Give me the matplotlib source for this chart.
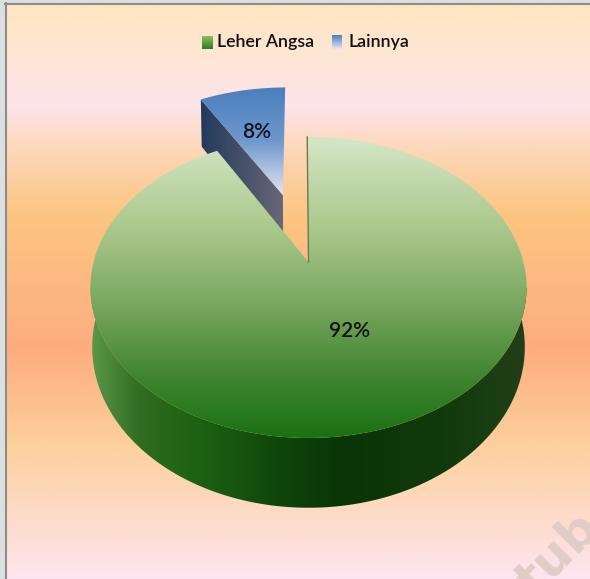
import numpy as np
import matplotlib
matplotlib.use('Agg')
import matplotlib.pyplot as plt
from matplotlib.colors import LinearSegmentedColormap as L
from matplotlib.patches import Polygon, Rectangle

labels = ['Leher Angsa', 'Lainnya']
shares = [92, 8]

W, H = 590, 579
font = 'Lato'
fig = plt.figure(figsize=(W/100, H/100), dpi=100, facecolor='#DDE0E0')
ax = fig.add_axes([0, 0, 1, 1])
ax.set_xlim(0, W); ax.set_ylim(H, 0); ax.axis('off')

def cmap(stops):
    return L.from_list('c', stops)

def vgrad(stops, y0, y1, x0=0, x1=W, clip=None, z=1):
    im = ax.imshow(np.linspace(0, 1, 512)[:, None], cmap=cmap(stops), extent=[x0, x1, y1, y0],
                   aspect='auto', zorder=z, vmin=0, vmax=1, interpolation='bilinear')
    if clip is not None: im.set_clip_path(clip)
    return im

def hgrad(stops, y0, y1, x0, x1, clip=None, z=1):
    im = ax.imshow(np.linspace(0, 1, 512)[None, :], cmap=cmap(stops), extent=[x0, x1, y1, y0],
                   aspect='auto', zorder=z, vmin=0, vmax=1, interpolation='bilinear')
    if clip is not None: im.set_clip_path(clip)
    return im

# background
bg = [(0, '#FFE6C0'), (55/575, '#FDE6D6'), (100/575, '#FDE4EA'), (140/575, '#FDD9BE'), (210/575, '#FCC582'),
      (345/575, '#FDAD80'), (440/575, '#FDD09C'), (1, '#FDE5EF')]
vgrad(bg, 4, H, 6, W, z=1)
ax.plot([5.5, 5.5], [3, H], color='#8C8C8C', lw=1.5, zorder=2)
ax.plot([5, W], [4, 4], color='#8C8C8C', lw=1.5, zorder=2)

# perspective projection of the pie disc
CX, CY, A, B, K, D = 308.5, 262, 214.9, 146.2, 0.169, 58
def proj(X, Y, depth=False):
    q = 1 + K*Y
    x = A*X/q; y = -B*Y/q
    if depth:
        x = x*0.992; y = y + D/q
    return CX + x, CY + y

fractions = np.array(shares, float)/sum(shares)
a_start = 90.4
a_end0 = a_start - 360*fractions[0]
t0 = np.radians(np.linspace(a_start, a_end0, 600))

# exploded slice
mid = np.radians(a_end0 - 360*fractions[1]/2)
e = 0.513
ex, ey = e*np.cos(mid) + 0.002, e*np.sin(mid)
t1 = np.radians(np.linspace(a_end0, a_end0 - 360*fractions[1], 60))
px, py = proj(ex + np.cos(t1), ey + np.sin(t1))
ax0, ay0 = proj(ex, ey)
c0 = proj(ex+np.cos(t1[0]), ey+np.sin(t1[0]))
c0b = proj(ex+np.cos(t1[0]), ey+np.sin(t1[0]), True)
a0b = proj(ex, ey, True)
side = Polygon([c0, (ax0, ay0), a0b, c0b], closed=True, transform=ax.transData, fc='none', ec='none')
ax.add_patch(side)
hgrad(['#23395A', '#6A6A7A'], 90, 300, 200, 287, clip=side, z=3)
face = Polygon(np.r_[np.c_[px, py], [[ax0, ay0]]], closed=True, transform=ax.transData, fc='none', ec='none')
ax.add_patch(face)
vgrad(['#4A7EBE', '#6E98CC', '#E8E6F4'], 86, 196, 195, 290, clip=face, z=4)

# main slice: outer wall (bottom rim runs a little past the tangent points, the top face hides the rest)
front = np.radians(np.linspace(180+9.7, 360-9.7, 360))
back = np.radians(np.linspace(170, 370, 400))
fx, fy = proj(np.cos(front), np.sin(front))
gx, gy = proj(np.cos(back), np.sin(back), True)
wall = Polygon(np.r_[np.c_[fx, fy], np.c_[gx, gy][::-1]], closed=True, transform=ax.transData, fc='none', ec='none')
ax.add_patch(wall)
hgrad([(0, '#5E9A4A'), (0.12, '#2F6B20'), (0.25, '#1C6212'), (0.45, '#0E430A'), (0.58, '#0A3507'),
       (0.8, '#113A0C'), (1, '#223F18')], 250, 520, 88, 530, clip=wall, z=5)

# main slice: top face
mx, my = proj(np.cos(t0), np.sin(t0))
top = Polygon(np.r_[np.c_[mx, my], [[CX, CY]]], closed=True, transform=ax.transData, fc='none', ec='none')
ax.add_patch(top)
vgrad([(0, '#D5E6C6'), (0.3, '#ABC88C'), (0.55, '#7AA860'), (0.8, '#3F8430'), (1, '#1A7212')], 137, 438, 85, 532, clip=top, z=6)
ax.plot([mx[0], CX], [my[0], CY], color='#6B7A50', lw=1.0, zorder=7)

# labels
ax.text(350, 331, f'{shares[0]}%', family=font, fontsize=15, fontweight='semibold', ha='center', va='center', color='#111111', zorder=9)
ax.text(257, 132, f'{shares[1]}%', family=font, fontsize=15, fontweight='semibold', ha='center', va='center', color='#111122', zorder=9)

# legend
vgrad(['#8FBE6A', '#2F7A22'], 36, 49, 202, 213, z=8)
vgrad(['#4A7EBE', '#E8E6F4'], 35, 49, 332, 342, z=8)
ax.text(217, 42, labels[0], family=font, fontsize=12.8, fontweight='semibold', ha='left', va='center', color='#111111', zorder=9)
ax.text(348, 42, labels[1], family=font, fontsize=12.8, fontweight='semibold', ha='left', va='center', color='#111111', zorder=9)

# watermark
ax.text(558, 554, 'tub', family='DejaVu Sans', fontsize=36, fontweight='bold', rotation=45, color='#E2CCC8',
        ha='center', va='center', zorder=1.5)

ax.set_xlim(0, W); ax.set_ylim(H, 0)
fig.savefig('out.png', dpi=100, facecolor=fig.get_facecolor())
